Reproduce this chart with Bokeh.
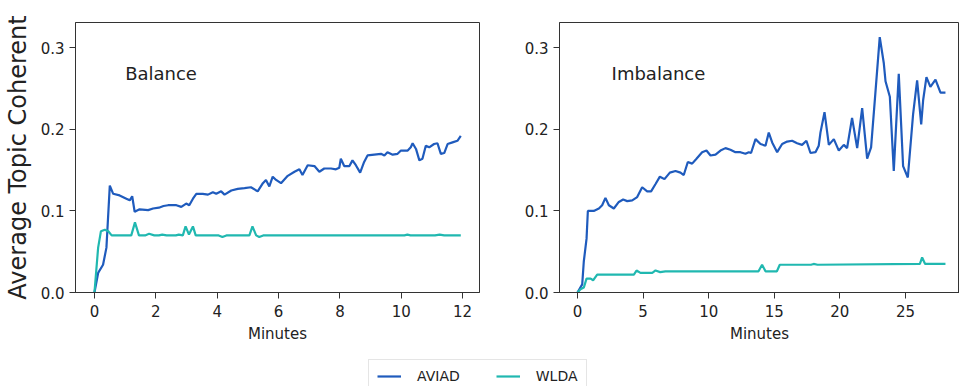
from bokeh.plotting import figure
from bokeh.models import Range1d, Label, Legend, LegendItem, FixedTicker, PrintfTickFormatter
from bokeh.layouts import column, row
from bokeh.embed import file_html
from bokeh.resources import INLINE

# ---------------- data ----------------
bal_aviad_x = [0, 0.12, 0.28, 0.39, 0.5, 0.61, 0.82, 1.04, 1.15, 1.23, 1.31, 1.47, 1.75, 1.91, 2.1,
               2.25, 2.4, 2.67, 2.83, 2.99, 3.09, 3.21, 3.32, 3.53, 3.7, 3.86, 3.97, 4.13, 4.24, 4.46,
               4.67, 4.89, 5.1, 5.32, 5.49, 5.59, 5.7, 5.81, 5.92, 6.08, 6.3, 6.52, 6.68, 6.78, 6.95,
               7.17, 7.33, 7.49, 7.71, 7.87, 7.98, 8.03, 8.14, 8.31, 8.41, 8.52, 8.66, 8.79, 8.9,
               9.12, 9.34, 9.45, 9.55, 9.72, 9.88, 9.99, 10.21, 10.31, 10.37, 10.48, 10.59, 10.69,
               10.8, 10.91, 11.07, 11.18, 11.29, 11.4, 11.51, 11.67, 11.83, 11.94]
bal_aviad_y = [0, 0.024, 0.034, 0.055, 0.131, 0.121, 0.119, 0.115, 0.113, 0.118, 0.099, 0.102, 0.101,
               0.103, 0.104, 0.106, 0.107, 0.107, 0.105, 0.109, 0.107, 0.115, 0.121, 0.121, 0.12,
               0.123, 0.121, 0.124, 0.12, 0.125, 0.127, 0.128, 0.129, 0.124, 0.134, 0.138, 0.13,
               0.142, 0.138, 0.134, 0.143, 0.148, 0.151, 0.144, 0.156, 0.155, 0.148, 0.152, 0.152,
               0.151, 0.153, 0.164, 0.155, 0.155, 0.162, 0.156, 0.147, 0.16, 0.168, 0.169, 0.17,
               0.168, 0.172, 0.169, 0.17, 0.174, 0.174, 0.178, 0.183, 0.176, 0.162, 0.164, 0.18,
               0.178, 0.182, 0.183, 0.17, 0.171, 0.182, 0.184, 0.186, 0.192]

bal_wlda_x = [0, 0.12, 0.21, 0.34, 0.45, 0.56, 1.2, 1.32, 1.45, 1.65, 1.78, 1.95, 2.1, 2.21, 2.35,
              2.65, 2.75, 2.88, 2.97, 3.08, 3.21, 3.3, 3.95, 4.05, 4.17, 4.3, 5.05, 5.15, 5.27,
              5.37, 5.5, 10.1, 10.2, 10.3, 11.1, 11.25, 11.4, 11.94]
bal_wlda_y = [0, 0.055, 0.075, 0.077, 0.075, 0.07, 0.07, 0.086, 0.07, 0.07, 0.072, 0.07, 0.07,
              0.071, 0.07, 0.07, 0.071, 0.07, 0.081, 0.071, 0.081, 0.07, 0.07, 0.07, 0.068, 0.07,
              0.07, 0.081, 0.07, 0.068, 0.07, 0.07, 0.071, 0.07, 0.07, 0.071, 0.07, 0.07]

imb_aviad_x = [0, 0.36, 0.48, 0.69, 0.79, 1.24, 1.63, 1.88, 2.13, 2.39, 2.77, 3.15, 3.48, 3.79, 4.17,
               4.55, 4.93, 5.31, 5.61, 5.95, 6.28, 6.63, 7.04, 7.47, 7.85, 8.1, 8.41, 8.74, 9.07,
               9.5, 9.83, 10.14, 10.52, 10.9, 11.28, 11.66, 12.04, 12.42, 12.8, 13.06, 13.23, 13.57,
               13.95, 14.33, 14.58, 14.84, 15.22, 15.6, 15.98, 16.36, 16.74, 17.12, 17.45, 17.76,
               18.14, 18.39, 18.52, 18.83, 19.16, 19.54, 19.92, 20.3, 20.55, 20.93, 21.32, 21.7,
               22.08, 22.38, 22.71, 23.04, 23.35, 23.48, 23.81, 24.11, 24.49, 24.82, 25.18, 25.58,
               25.89, 26.2, 26.35, 26.6, 26.9, 27.29, 27.67, 28.05]
imb_aviad_y = [0, 0.01, 0.038, 0.066, 0.1, 0.1, 0.103, 0.107, 0.116, 0.107, 0.103, 0.111, 0.114,
               0.112, 0.113, 0.117, 0.129, 0.124, 0.124, 0.133, 0.142, 0.139, 0.147, 0.149, 0.147,
               0.144, 0.16, 0.158, 0.164, 0.172, 0.174, 0.168, 0.169, 0.174, 0.177, 0.175, 0.172,
               0.172, 0.17, 0.172, 0.171, 0.188, 0.182, 0.18, 0.196, 0.184, 0.172, 0.182, 0.185,
               0.186, 0.183, 0.181, 0.186, 0.171, 0.172, 0.18, 0.196, 0.221, 0.181, 0.188, 0.174,
               0.181, 0.177, 0.214, 0.177, 0.226, 0.164, 0.178, 0.245, 0.313, 0.281, 0.259, 0.24,
               0.149, 0.268, 0.155, 0.141, 0.218, 0.26, 0.206, 0.236, 0.264, 0.252, 0.261, 0.245,
               0.245]

imb_wlda_x = [0, 0.23, 0.48, 0.69, 1.0, 1.19, 1.5, 4.3, 4.5, 4.8, 5.7, 5.95, 6.3, 6.7, 13.8, 14.07,
              14.33, 15.2, 15.42, 17.8, 18.0, 18.3, 26.1, 26.27, 26.5, 28.05]
imb_wlda_y = [0, 0.004, 0.006, 0.017, 0.017, 0.015, 0.022, 0.022, 0.027, 0.024, 0.024, 0.027,
              0.025, 0.026, 0.026, 0.034, 0.026, 0.026, 0.034, 0.034, 0.035, 0.034, 0.035, 0.043,
              0.035, 0.035]

bal_xticks = [0, 2, 4, 6, 8, 10, 12]
imb_xticks = [0, 5, 10, 15, 20, 25]
yticks = [0.0, 0.1, 0.2, 0.3]
series_names = ["AVIAD", "WLDA"]

AVIAD_COLOR = "#1f5bbd"
WLDA_COLOR = "#20b8b0"
FONT = "DejaVu Sans"
TXT = "#222222"


def style(p, xticks):
    p.outline_line_color = "#333333"
    p.outline_line_width = 1
    p.xgrid.visible = False
    p.ygrid.visible = False
    for ax in (p.xaxis[0], p.yaxis[0]):
        ax.axis_line_color = "#333333"
        ax.major_tick_line_color = "#333333"
        ax.major_tick_out = 6
        ax.major_tick_in = 0
        ax.minor_tick_line_color = None
        ax.major_label_text_font = FONT
        ax.major_label_text_font_size = "15px"
        ax.major_label_text_color = TXT
        ax.axis_label_text_font = FONT
        ax.axis_label_text_color = TXT
        ax.axis_label_text_font_style = "normal"
    p.xaxis.major_label_standoff = 6
    p.yaxis.major_label_standoff = 5
    p.xaxis.ticker = FixedTicker(ticks=xticks)
    p.yaxis.ticker = FixedTicker(ticks=yticks)
    p.yaxis.formatter = PrintfTickFormatter(format="%.1f")
    p.xaxis.axis_label = "Minutes"
    p.xaxis.axis_label_text_font_size = "15px"
    p.xaxis.axis_label_standoff = 5


p1 = figure(width=500, height=345, output_backend="svg", toolbar_location=None,
            x_range=Range1d(-0.618, 12.55), y_range=Range1d(0, 0.331),
            min_border_left=74, min_border_right=21, min_border_top=22, min_border_bottom=50)
style(p1, bal_xticks)
p1.yaxis.axis_label = "Average Topic Coherent"
p1.yaxis.axis_label_text_font_size = "24px"
p1.yaxis.axis_label_standoff = 6
p1.line(bal_aviad_x, bal_aviad_y, line_color=AVIAD_COLOR, line_width=2.2)
p1.line(bal_wlda_x, bal_wlda_y, line_color=WLDA_COLOR, line_width=2.2)
p1.add_layout(Label(x=1.0, y=0.269, text="Balance", text_font=FONT, text_font_size="18px",
                    text_color=TXT, text_baseline="middle"))

p2 = figure(width=459, height=345, output_backend="svg", toolbar_location=None,
            x_range=Range1d(-1.372, 29.12), y_range=Range1d(0, 0.331),
            min_border_left=59, min_border_right=0, min_border_top=22, min_border_bottom=50)
style(p2, imb_xticks)
p2.line(imb_aviad_x, imb_aviad_y, line_color=AVIAD_COLOR, line_width=2.2)
p2.line(imb_wlda_x, imb_wlda_y, line_color=WLDA_COLOR, line_width=2.2)
p2.add_layout(Label(x=2.6, y=0.269, text="Imbalance", text_font=FONT, text_font_size="18px",
                    text_color=TXT, text_baseline="middle"))

# legend strip (sample lines lie outside the visible range; only the legend shows)
pl = figure(width=959, height=41, output_backend="svg", toolbar_location=None,
            x_range=Range1d(0, 1), y_range=Range1d(0, 1), min_border=0)
pl.axis.visible = False
pl.xgrid.visible = False
pl.ygrid.visible = False
pl.outline_line_color = None
la = pl.line([5, 6], [5, 5], line_color=AVIAD_COLOR, line_width=2.2)
lw = pl.line([5, 6], [5, 5], line_color=WLDA_COLOR, line_width=2.2)
legend = Legend(items=[LegendItem(label=series_names[0], renderers=[la]),
                       LegendItem(label=series_names[1], renderers=[lw])],
                orientation="horizontal", location=(368, -7),
                padding=8, spacing=36, glyph_width=24, glyph_height=14, label_height=14,
                label_standoff=16, label_text_font=FONT, label_text_font_size="14px",
                label_text_color=TXT, border_line_color="#cccccc", border_line_width=1,
                background_fill_color="white", background_fill_alpha=1.0, margin=0)
pl.add_layout(legend)

layout = column(row(p1, p2), pl)
open("out.html", "w").write(file_html(layout, INLINE))
